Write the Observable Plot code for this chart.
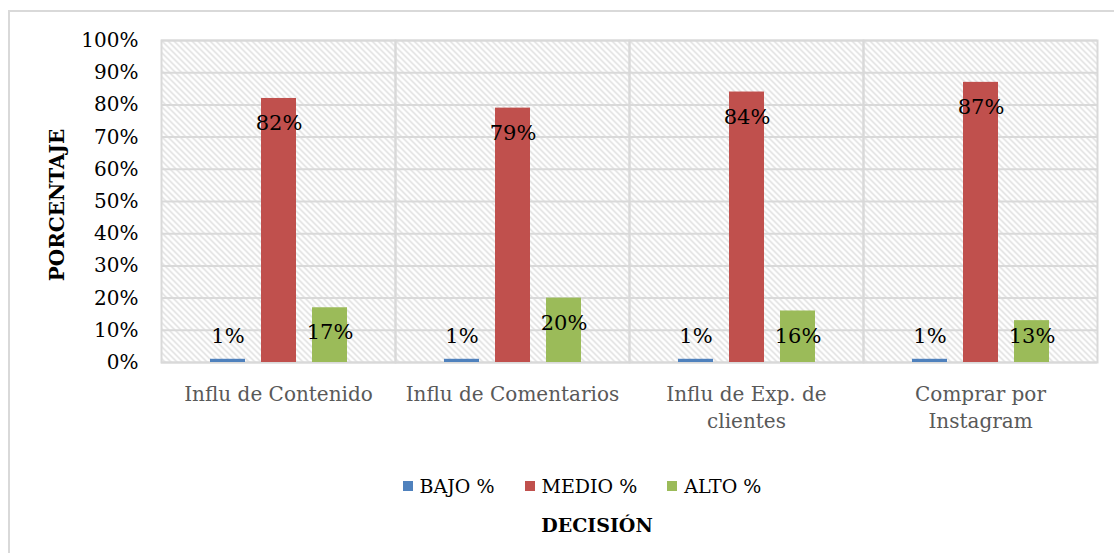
<!DOCTYPE html>
<html>
<head>
<meta charset="utf-8">
<script src="https://cdn.jsdelivr.net/npm/d3@7"></script>
<script src="https://cdn.jsdelivr.net/npm/@observablehq/plot@0.6"></script>
<style>
  html, body { margin: 0; padding: 0; background: #fff; }
  body { width: 1114px; height: 553px; position: relative; overflow: hidden; font-family: "DejaVu Serif", serif; }
  #border { position: absolute; left: 8px; top: 10px; width: 1200px; height: 700px; border: 2px solid #d9d9d9; box-sizing: border-box; }
  #chart { position: absolute; left: 0; top: 0; }
  #ylabel { position: absolute; left: 57px; top: 205px; transform: translate(-50%, -50%) rotate(-90deg); font-weight: bold; font-size: 20px; white-space: nowrap; color: #000; }
  #legend { position: absolute; top: 475px; left: 0; width: 1114px; display: flex; justify-content: center; gap: 30px; font-size: 19px; color: #000; padding-left: 50px; box-sizing: border-box; }
  #legend .item { display: flex; align-items: center; gap: 7px; }
  #legend .sw { width: 10px; height: 10px; display: inline-block; }
  #title { position: absolute; top: 514px; left: 0; width: 1114px; text-align: center; font-weight: bold; font-size: 19px; padding-left: 80px; box-sizing: border-box; }
</style>
</head>
<body>
<div id="border"></div>
<div id="chart"></div>
<div id="ylabel">PORCENTAJE</div>
<div id="legend"></div>
<div id="title">DECISIÓN</div>
<script>
const categories = ["Influ de Contenido", "Influ de Comentarios", "Influ de Exp. de\nclientes", "Comprar por\nInstagram"];
const seriesNames = ["BAJO %", "MEDIO %", "ALTO %"];
const seriesColors = ["#4f81bd", "#c0504d", "#9bbb59"];
const bajo = [0.01, 0.01, 0.01, 0.01];
const medio = [0.82, 0.79, 0.84, 0.87];
const alto = [0.17, 0.20, 0.16, 0.13];
const yTicks = [0, 0.1, 0.2, 0.3, 0.4, 0.5, 0.6, 0.7, 0.8, 0.9, 1.0];

const seriesValues = [bajo, medio, alto];
const data = [];
categories.forEach((c, i) => {
  seriesNames.forEach((s, j) => data.push({cat: c, series: s, value: seriesValues[j][i]}));
});

const pct = d => Math.round(d * 100) + "%";

const plot = Plot.plot({
  width: 1114,
  height: 440,
  marginLeft: 160,
  marginRight: 17,
  marginTop: 40,
  marginBottom: 78,
  style: {fontFamily: "'DejaVu Serif', serif", fontSize: "20px", background: "transparent", overflow: "visible"},
  fx: {domain: categories, padding: 0, label: null, axis: null},
  x: {domain: seriesNames, paddingInner: 0.314, paddingOuter: 0.95, axis: null},
  y: {domain: [0, 1], axis: null},
  color: {domain: seriesNames, range: seriesColors},
  marks: [
    Plot.frame({fill: "url(#hatch)", stroke: "none"}),
    Plot.gridY(yTicks, {stroke: "#d9d9d9", strokeOpacity: 1, strokeWidth: 2}),
    Plot.frame({stroke: "#d9d9d9", strokeWidth: 2}),
    Plot.barY(data, {fx: "cat", x: "series", y: "value", fill: "series"}),
    Plot.text(data, {fx: "cat", x: "series", y: d => Math.max(d.value, 0.16), dy: 25, text: d => pct(d.value), fill: "#000", fontSize: 21}),
    Plot.axisY(yTicks, {tickFormat: pct, tickSize: 0, tickPadding: 23, label: null, fill: "#000", fontSize: 20}),
    Plot.axisFx({anchor: "bottom", tickSize: 0, tickPadding: 19, label: null, fill: "#595959", fontSize: 20, lineHeight: 1.35})
  ]
});

// hatch pattern definition
const ns = "http://www.w3.org/2000/svg";
const defs = document.createElementNS(ns, "defs");
defs.innerHTML = `<pattern id="hatch" patternUnits="userSpaceOnUse" width="6" height="6">
  <rect width="6" height="6" fill="#ffffff"/>
  <path d="M-1,-1 L7,7 M-4,2 L2,8 M4,-2 L10,4" stroke="#dadada" stroke-width="1.3"/>
</pattern>`;
plot.insertBefore(defs, plot.firstChild);

document.getElementById("chart").appendChild(plot);

const legend = document.getElementById("legend");
seriesNames.forEach((s, i) => {
  const item = document.createElement("span");
  item.className = "item";
  const sw = document.createElement("span");
  sw.className = "sw";
  sw.style.background = seriesColors[i];
  item.appendChild(sw);
  item.appendChild(document.createTextNode(s));
  legend.appendChild(item);
});
</script>
</body>
</html>
